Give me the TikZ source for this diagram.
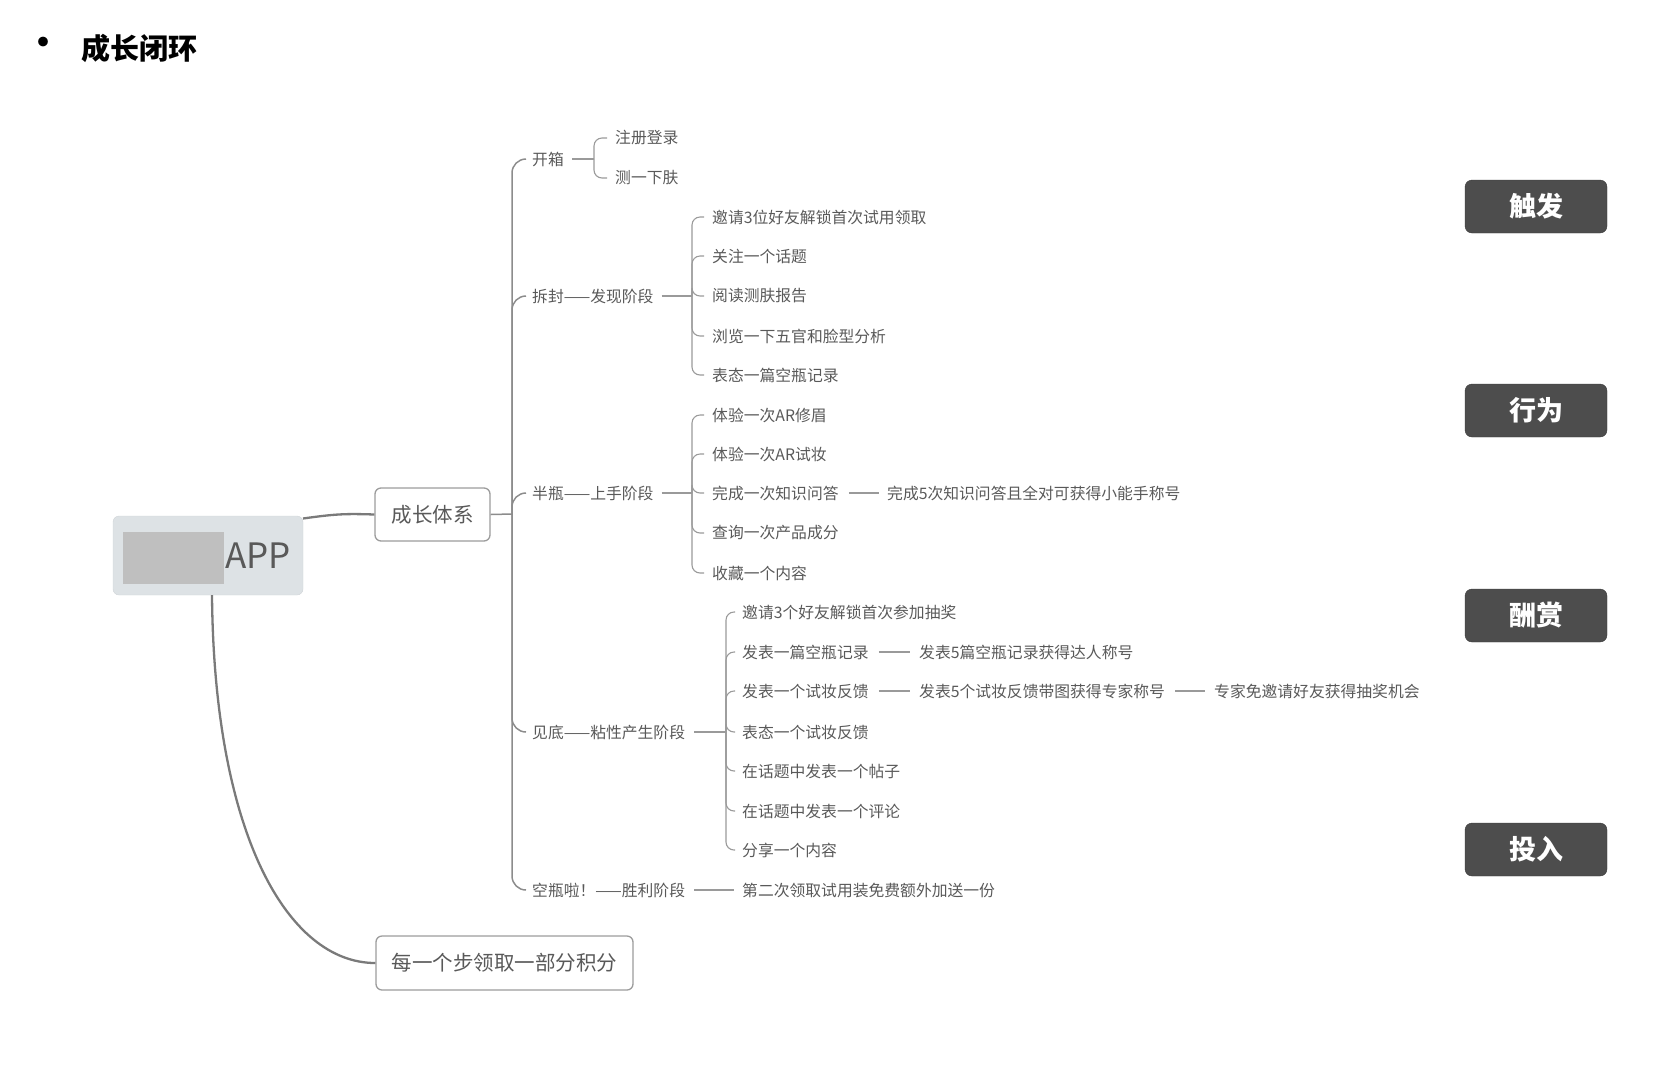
\documentclass[tikz,border=0pt]{standalone}
\usepackage{fontspec}
\setmainfont{Noto Sans CJK SC}
\definecolor{txt}{HTML}{595959}
\definecolor{linec}{HTML}{9A9A9A}
\definecolor{spinec}{HTML}{8C8C8C}
\definecolor{mainc}{HTML}{7A7A7A}
\definecolor{appfill}{HTML}{DDE2E5}
\definecolor{appdraw}{HTML}{D0D5D8}
\definecolor{redact}{HTML}{BFBFBF}
\definecolor{tagfill}{HTML}{4D4D4D}
\definecolor{tagdraw}{HTML}{3A3A3A}
\definecolor{boxdraw}{HTML}{9C9C9C}
\begin{document}
\begin{tikzpicture}[x=1pt,y=-1pt,
  lbl/.style={anchor=west, inner sep=0pt, text=txt, font=\fontsize{15.8}{18}\selectfont},
  tag/.style={draw=tagdraw, fill=tagfill, rounded corners=7pt, minimum width=142pt, minimum height=53pt, inner sep=0pt, text=white, font=\fontsize{27}{30}\selectfont\bfseries},
  topicbox/.style={draw=boxdraw, line width=1.3pt, fill=white, rounded corners=6pt, inner sep=0pt, text=txt, font=\fontsize{20.5}{23}\selectfont},
  br/.style={draw=linec, line width=1.1pt, rounded corners=8pt},
  thinline/.style={draw=linec, line width=1.1pt},
  spine/.style={draw=spinec, line width=1.5pt, rounded corners=14pt},
  mainline/.style={draw=mainc, line width=2.3pt},
]
\useasboundingbox (0,0) rectangle (1660,1072);

% title
\node[inner sep=0pt, font=\fontsize{46}{48}\selectfont] (bul) at (43,48) {•};
\node[anchor=west, inner sep=0pt, font=\fontsize{29}{32}\selectfont\bfseries] (title) at (81,48) {成长闭环};

% central topic
\node[draw=appdraw, fill=appfill, rounded corners=6pt, minimum width=190pt, minimum height=79pt, inner sep=0pt] (app) at (208,555.5) {};
\node[fill=redact, minimum width=101pt, minimum height=52pt, inner sep=0pt] (mask) at (173.5,558) {};
\node[anchor=west, inner sep=0pt, text=txt, font=\fontsize{35}{38}\selectfont] (apptxt) at (225,556) {APP};

\node[topicbox, minimum width=115pt, minimum height=53pt] (sys) at (432.5,514.5) {成长体系};
\node[topicbox, minimum width=257pt, minimum height=54pt] (pts) at (504.5,963) {每一个步领取一部分积分};

\coordinate (appA) at (303,518.5);
\coordinate (appB) at (212,595);
\draw[mainline] (appA) .. controls (335,514) and (345,513.5) .. (sys.west);
\draw[mainline] (appB) .. controls (214,835) and (288,963) .. (pts.west);

% level 1
\coordinate (j0) at (512,514);
\node[lbl] (k1) at (532,159) {开箱};
\node[lbl] (k2) at (532,296) {拆封——发现阶段};
\node[lbl] (k3) at (532,493) {半瓶——上手阶段};
\node[lbl] (k4) at (532,732) {见底——粘性产生阶段};
\node[lbl] (k5) at (532,890) {空瓶啦！——胜利阶段};
\draw[spine] (sys.east) -- (j0);
\foreach \k in {k1,k2,k3,k4,k5} {
  \draw[spine] (j0) |- ([xshift=-6pt]\k.west);
}

% 开箱
\coordinate (J1) at (594,159);
\node[lbl] (c11) at (615,138) {注册登录};
\node[lbl] (c12) at (615,178) {测一下肤};
\draw[thinline, shorten <=8pt] (k1.east) -- (J1);
\foreach \c in {c11,c12} { \draw[br] (J1) |- ([xshift=-8pt]\c.west); }

% 拆封
\coordinate (J2) at (692,296);
\node[lbl] (c21) at (712,217) {邀请3位好友解锁首次试用领取};
\node[lbl] (c22) at (712,256) {关注一个话题};
\node[lbl] (c23) at (712,296) {阅读测肤报告};
\node[lbl] (c24) at (712,336) {浏览一下五官和脸型分析};
\node[lbl] (c25) at (712,375) {表态一篇空瓶记录};
\draw[thinline, shorten <=8pt] (k2.east) -- (J2);
\foreach \c in {c21,c22,c23,c24,c25} { \draw[br] (J2) |- ([xshift=-8pt]\c.west); }

% 半瓶
\coordinate (J3) at (692,493);
\node[lbl] (c31) at (712,415) {体验一次AR修眉};
\node[lbl] (c32) at (712,454) {体验一次AR试妆};
\node[lbl] (c33) at (712,493) {完成一次知识问答};
\node[lbl] (c34) at (712,533) {查询一次产品成分};
\node[lbl] (c35) at (712,573) {收藏一个内容};
\node[lbl] (c33x) at (887,493) {完成5次知识问答且全对可获得小能手称号};
\draw[thinline, shorten <=8pt] (k3.east) -- (J3);
\foreach \c in {c31,c32,c33,c34,c35} { \draw[br] (J3) |- ([xshift=-8pt]\c.west); }
\draw[thinline, shorten <=10pt, shorten >=8pt] (c33.east) -- (c33x.west);

% 见底
\coordinate (J4) at (726,732);
\node[lbl] (c41) at (742,612) {邀请3个好友解锁首次参加抽奖};
\node[lbl] (c42) at (742,652) {发表一篇空瓶记录};
\node[lbl] (c43) at (742,691) {发表一个试妆反馈};
\node[lbl] (c44) at (742,732) {表态一个试妆反馈};
\node[lbl] (c45) at (742,771) {在话题中发表一个帖子};
\node[lbl] (c46) at (742,811) {在话题中发表一个评论};
\node[lbl] (c47) at (742,850) {分享一个内容};
\node[lbl] (c42x) at (919,652) {发表5篇空瓶记录获得达人称号};
\node[lbl] (c43x) at (919,691) {发表5个试妆反馈带图获得专家称号};
\node[lbl] (c43y) at (1214,691) {专家免邀请好友获得抽奖机会};
\draw[thinline, shorten <=9pt] (k4.east) -- (J4);
\foreach \c in {c41,c42,c43,c44,c45,c46,c47} { \draw[br] (J4) |- ([xshift=-7pt]\c.west); }
\draw[thinline, shorten <=10pt, shorten >=9pt] (c42.east) -- (c42x.west);
\draw[thinline, shorten <=10pt, shorten >=9pt] (c43.east) -- (c43x.west);
\draw[thinline, shorten <=10pt, shorten >=9pt] (c43x.east) -- (c43y.west);

% 空瓶啦
\node[lbl] (c51) at (742,890) {第二次领取试用装免费额外加送一份};
\draw[thinline, shorten <=9pt, shorten >=8pt] (k5.east) -- (c51.west);

% right tags
\node[tag] (t1) at (1536,206.5) {触发};
\node[tag] (t2) at (1536,410.5) {行为};
\node[tag] (t3) at (1536,615.5) {酬赏};
\node[tag] (t4) at (1536,849.5) {投入};
\end{tikzpicture}
\end{document}
